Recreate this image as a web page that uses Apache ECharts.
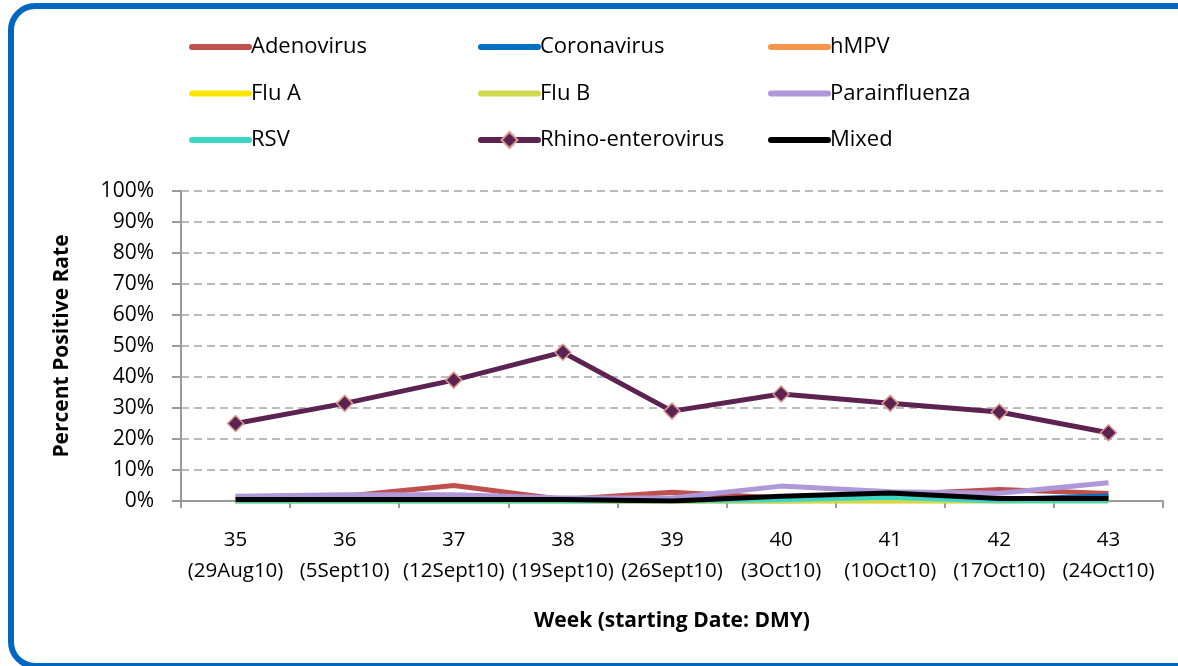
<!DOCTYPE html>
<html>
<head>
<meta charset="utf-8">
<title>Percent Positive Rate by Week</title>
<script src="https://cdn.jsdelivr.net/npm/echarts@6/dist/echarts.min.js"></script>
<style>
    html, body { margin: 0; padding: 0; background: #fff; }
    #main { width: 1178px; height: 666px; }
</style>
</head>
<body>
<div id="main"></div>
<script>
// week labels (week number + starting date)
var weeks = ['35', '36', '37', '38', '39', '40', '41', '42', '43'];
var weekDates = ['(29Aug10)', '(5Sept10)', '(12Sept10)', '(19Sept10)', '(26Sept10)', '(3Oct10)', '(10Oct10)', '(17Oct10)', '(24Oct10)'];

// percent positive
var adenovirus    = [1, 1.5, 5, 0.5, 2.8, 1, 2, 3.7, 2.4];
var coronavirus   = [0, 0, 0, 0, 0, 0, 0.5, 0.5, 1.6];
var hmpv          = [0, 0, 0, 0, 0, 0, 0, 0, 0.3];
var fluA          = [0, 0, 0, 0, 0, 0, 0, 0, 0];
var fluB          = [0, 0, 0, 0, 0, 0, 0, 0, 0];
var parainfluenza = [1.5, 2, 2, 1, 1, 4.8, 3, 2.5, 5.9];
var rsv           = [0, 0, 0, 0, 0, 0.5, 1.2, 0, 0];
var rhino         = [25, 31.5, 39, 48, 29, 34.5, 31.5, 28.7, 22];
var mixed         = [0.5, 0.5, 0.5, 0.5, 0, 1.5, 2.6, 0.8, 0.8];

var yTicks = [0, 10, 20, 30, 40, 50, 60, 70, 80, 90, 100];

var font = '"Open Sans", Lato, sans-serif';

function lineSeries(name, data, color) {
    return {
        name: name,
        type: 'line',
        data: data,
        symbol: 'none',
        lineStyle: { width: 5, color: color },
        itemStyle: { color: color },
        animation: false
    };
}

var series = [
    lineSeries('Adenovirus', adenovirus, '#C0504D'),
    lineSeries('Coronavirus', coronavirus, '#0070C0'),
    lineSeries('hMPV', hmpv, '#F79646'),
    lineSeries('Flu A', fluA, '#FFE600'),
    lineSeries('Flu B', fluB, '#CFD94E'),
    lineSeries('Parainfluenza', parainfluenza, '#AE98DA'),
    lineSeries('RSV', rsv, '#3CD6C4'),
    {
        name: 'Rhino-enterovirus',
        type: 'line',
        data: rhino,
        symbol: 'diamond',
        symbolSize: 16,
        lineStyle: { width: 5, color: '#5C2352' },
        itemStyle: { color: '#5C2352', borderColor: '#D99A92', borderWidth: 1.5 },
        animation: false
    },
    lineSeries('Mixed', mixed, '#000000')
];

// legend entry: plain line icon unless it is the rhino series (line + diamond)
function legendItem(name) {
    if (name === 'Rhino-enterovirus') return { name: name };
    return { name: name, itemStyle: { opacity: 0 } };
}

function legendCol(left, names) {
    return {
        orient: 'vertical',
        left: left,
        top: 31,
        itemGap: 24.5,
        itemWidth: 57,
        itemHeight: 20,
        lineStyle: { width: 6, cap: 'round' },
        data: names.map(legendItem),
        textStyle: { fontSize: 22, color: '#000', fontFamily: font, padding: [0, 0, 0, -3] }
    };
}

var myChart = echarts.init(document.getElementById('main'));

var option = {
    backgroundColor: '#fff',
    animation: false,
    graphic: [{
        type: 'rect',
        shape: { x: 11, y: 6, width: 1190, height: 660, r: 24 },
        style: { fill: 'none', stroke: '#0066C0', lineWidth: 6 },
        z: 100
    }],
    legend: [
        legendCol(184, ['Adenovirus', 'Flu A', 'RSV']),
        legendCol(473, ['Coronavirus', 'Flu B', 'Rhino-enterovirus']),
        legendCol(763, ['hMPV', 'Parainfluenza', 'Mixed'])
    ],
    grid: { left: 181, right: 15, top: 191, bottom: 165 },
    xAxis: {
        type: 'category',
        data: weeks,
        boundaryGap: true,
        name: 'Week (starting Date: DMY)',
        nameLocation: 'middle',
        nameGap: 110,
        nameTextStyle: { fontSize: 21, fontWeight: 'bold', color: '#000', fontFamily: font },
        axisLine: { lineStyle: { color: '#9A9A9A', width: 2 } },
        axisTick: { show: true, length: 7, alignWithLabel: false, lineStyle: { color: '#9A9A9A', width: 2 } },
        axisLabel: {
            margin: 24,
            lineHeight: 31,
            fontSize: 20.5,
            color: '#000',
            fontFamily: font,
            interval: 0,
            formatter: function (value, idx) {
                return value + '\n' + weekDates[idx];
            }
        }
    },
    yAxis: {
        type: 'value',
        min: yTicks[0],
        max: yTicks[yTicks.length - 1],
        interval: 10,
        name: 'Percent Positive Rate',
        nameLocation: 'middle',
        nameGap: 108,
        nameRotate: 90,
        nameTextStyle: { fontSize: 21, fontWeight: 'bold', color: '#000', fontFamily: font },
        axisLine: { show: true, lineStyle: { color: '#9A9A9A', width: 2 } },
        axisTick: { show: true, length: 9, lineStyle: { color: '#9A9A9A', width: 2 } },
        axisLabel: {
            margin: 27,
            fontSize: 21,
            color: '#000',
            fontFamily: font,
            formatter: '{value}%'
        },
        splitLine: { show: true, lineStyle: { color: '#BBBBBB', type: [8, 5], width: 2 } }
    },
    series: series
};

myChart.setOption(option);
</script>
</body>
</html>
